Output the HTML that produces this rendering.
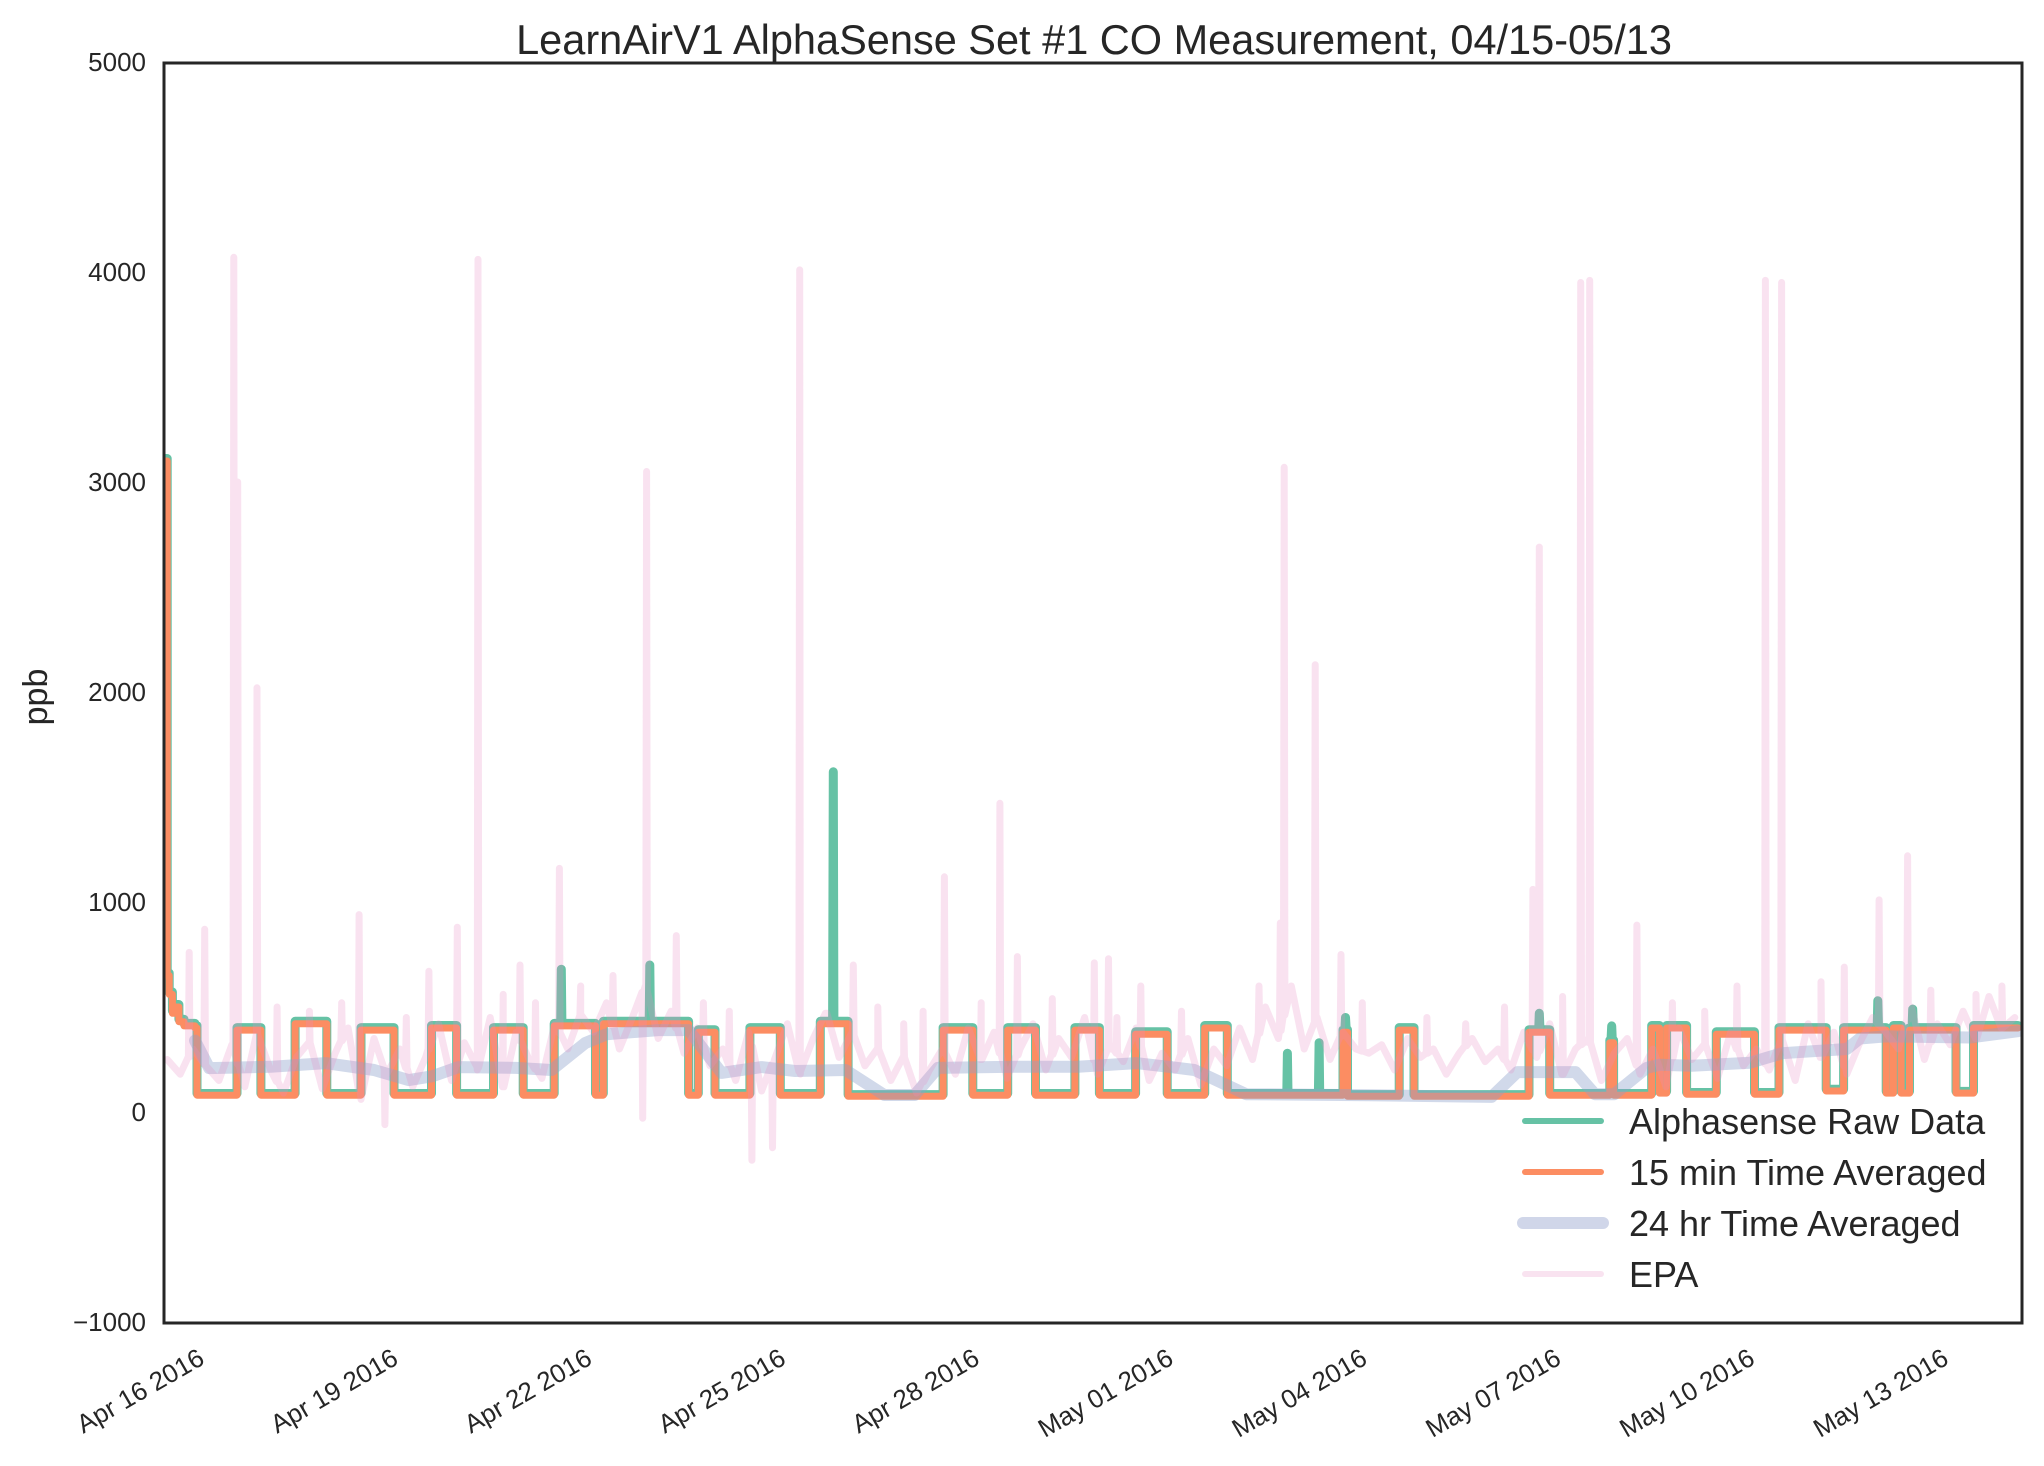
<!DOCTYPE html>
<html>
<head>
<meta charset="utf-8">
<style>
  html, body { margin: 0; padding: 0; background: #ffffff; }
  svg { display: block; font-family: "Liberation Sans", Arial, sans-serif; }
</style>
</head>
<body>
<svg id="chart" width="2044" height="1466" viewBox="0 0 2044 1466" xmlns="http://www.w3.org/2000/svg">
  <rect x="0" y="0" width="2044" height="1466" fill="#ffffff"/>
  <defs>
    <clipPath id="plotClip"><rect x="164" y="63" width="1858" height="1260"/></clipPath>
  </defs>
  <text x="1094" y="54" font-size="41.5" fill="#262626" text-anchor="middle">LearnAirV1 AlphaSense Set #1 CO Measurement, 04/15-05/13</text>
  <text x="47" y="697" font-size="34" fill="#262626" text-anchor="middle" transform="rotate(-90 47 697)">ppb</text>
  <g id="yticks"></g>
  <g id="xticks"></g>
  <g id="series" clip-path="url(#plotClip)"></g>
  <rect x="164" y="63" width="1858" height="1260" fill="none" stroke="#262626" stroke-width="3"/>
  <g>
    <line x1="1525" y1="1121" x2="1601" y2="1121" stroke="#66c2a5" stroke-width="6" stroke-linecap="round"/>
    <text x="1629" y="1134" font-size="36" fill="#262626">Alphasense Raw Data</text>
    <line x1="1525" y1="1172" x2="1601" y2="1172" stroke="#fc8d62" stroke-width="6" stroke-linecap="round"/>
    <text x="1629" y="1185" font-size="36" fill="#262626">15 min Time Averaged</text>
    <line x1="1523" y1="1223" x2="1603" y2="1223" stroke="#d0d6e9" stroke-width="12" stroke-linecap="round"/>
    <text x="1629" y="1236" font-size="36" fill="#262626">24 hr Time Averaged</text>
    <line x1="1525" y1="1274" x2="1601" y2="1274" stroke="#f9e3f0" stroke-width="6" stroke-linecap="round"/>
    <text x="1629" y="1287" font-size="36" fill="#262626">EPA</text>
  </g>
</svg>
<script>
// ---- data (days since Apr 16 2016 00:00) ----
const yTickValues = [-1000, 0, 1000, 2000, 3000, 4000, 5000];
const xTickDays = [0, 3, 6, 9, 12, 15, 18, 21, 24, 27];
const xTickLabels = ["Apr 16 2016","Apr 19 2016","Apr 22 2016","Apr 25 2016","Apr 28 2016","May 01 2016","May 04 2016","May 07 2016","May 10 2016","May 13 2016"];

// 15 min average: step starts and levels
const avgT = [-0.66,-0.6,-0.57,-0.52,-0.49,-0.42,-0.34,-0.17,-0.14,0.48,0.85,1.38,1.87,2.40,2.91,3.49,3.88,4.45,4.91,5.39,6.03,6.15,7.47,7.62,7.88,8.42,8.89,9.51,9.94,11.41,11.87,12.41,12.84,13.45,13.83,14.39,14.88,15.46,15.81,17.60,17.67,18.47,18.70,20.48,20.80,21.73,21.79,22.38,22.50,22.61,22.92,23.38,23.97,24.35,25.08,25.35,26.01,26.12,26.24,26.37,27.09,27.36];
const avgV = [3100,650,560,470,500,430,410,400,80,390,80,420,80,390,80,400,80,390,80,410,80,420,80,380,80,390,80,420,75,390,80,390,80,390,80,370,80,400,80,380,75,390,75,380,80,330,80,400,90,400,85,370,85,390,100,390,90,400,90,390,90,400];
const endDay = 28.05;

// raw data spikes
const rawSpikeT = [5.50,6.87,9.71,16.74,17.23,17.64,20.64,21.76,25.88,26.42];
const rawSpikeV = [680,700,1620,280,330,450,470,410,530,490];

// 24 hr average
const dayT = [-0.17,0.05,1.0,1.85,2.6,3.14,3.5,3.91,4.8,5.35,5.87,6.2,7.0,7.47,7.98,8.6,9.12,9.9,10.5,10.97,11.33,12.5,13.5,14.4,14.9,15.3,16.1,18.0,19.9,20.3,21.2,21.4,21.5,21.8,22.3,22.5,23.0,23.9,24.4,25.4,25.6,26.0,27.3,28.05];
const dayV = [340,209,215,233,200,152,170,214,210,200,328,370,390,390,186,214,195,200,81,81,210,215,215,233,215,200,85,80,72,190,190,120,85,85,210,225,220,235,280,300,350,360,355,385];

// EPA baseline (every 0.2 day from -0.6) and spikes
const epaStart = -0.6, epaStep = 0.2;
const epaBase = [250,180,300,220,
150,320,120,380,200,90,260,330,110,
280,400,60,350,180,300,120,260,420,150,
330,200,450,120,380,250,160,420,300,460,
380,520,300,450,600,350,480,280,400,220,
300,150,380,100,250,420,180,350,470,260,
380,220,300,150,260,90,200,300,180,400,
250,380,160,300,420,200,350,260,450,180,
320,240,400,150,280,200,350,130,300,220,
400,250,500,350,600,300,450,250,380,300,
280,320,200,350,260,300,180,280,350,240,
300,200,380,260,420,180,300,350,150,280,
350,180,300,120,400,250,320,160,380,220,
300,200,350,150,420,260,380,180,330,450,
380,300,500,250,420,320,480,350,550,400,
450];
const epaSpikeT = [-0.26,-0.02,0.43,0.49,0.79,2.37,2.77,3.45,3.89,4.21,4.86,5.47,6.76,6.82,7.28,8.45,8.77,9.19,10.02,11.43,12.29,12.56,13.75,13.97,14.47,16.63,16.69,17.17,17.57,20.54,20.64,21.28,21.42,22.15,24.14,24.39,25.36,25.90,26.34,1.1,1.6,2.1,3.1,4.6,5.1,5.8,6.3,7.7,8.1,9.6,10.4,10.8,11.1,12.0,13.1,14.1,15.1,16.3,17.9,18.9,19.5,20.1,21.0,22.7,23.2,23.7,25.0,26.7,27.4,27.8];
const epaSpikeV = [760,870,4070,3000,2020,940,-60,670,880,4060,700,1160,-30,3050,840,-230,-170,4010,700,1120,1470,740,710,730,600,900,3070,2130,750,1060,2690,3950,3960,890,3960,3950,690,1010,1220,500,480,520,450,560,520,600,650,520,480,450,500,420,480,520,540,450,480,600,520,450,420,500,550,520,480,600,620,580,560,600];

// ---- axes ----
const X0 = 206, PX_PER_DAY = 64.6;
const Y0 = 1112, PX_PER_UNIT = 0.21;
function xs(d) { return X0 + d * PX_PER_DAY; }
function ys(v) { return Y0 - v * PX_PER_UNIT; }

const NS = "http://www.w3.org/2000/svg";
function mk(tag, attrs, parent) {
  const el = document.createElementNS(NS, tag);
  for (const k in attrs) el.setAttribute(k, attrs[k]);
  parent.appendChild(el);
  return el;
}

const yg = document.getElementById('yticks');
yTickValues.forEach(v => {
  const t = mk('text', {x: 146, y: ys(v) + 9, 'font-size': 26, fill: '#262626', 'text-anchor': 'end'}, yg);
  
  
  t.textContent = v < 0 ? '\u2212' + Math.abs(v) : String(v);
});

const xg = document.getElementById('xticks');
xTickDays.forEach((d, i) => {
  const x = xs(d), y = 1363;
  const t = mk('text', {x: x, y: y, 'font-size': 26, fill: '#262626', 'text-anchor': 'end', transform: 'rotate(-30 ' + x + ' ' + y + ')'}, xg);
  
  
  t.textContent = xTickLabels[i];
});

// ---- series ----
const sg = document.getElementById('series');

function stepPoints(T, V, extraT, extraV) {
  const pts = [];
  for (let i = 0; i < T.length; i++) {
    const tEnd = i + 1 < T.length ? T[i + 1] : endDay;
    pts.push([T[i], V[i]]);
    if (extraT) {
      for (let k = 0; k < extraT.length; k++) {
        if (extraT[k] >= T[i] && extraT[k] < tEnd) {
          pts.push([extraT[k] - 0.01, V[i]]);
          pts.push([extraT[k], extraV[k]]);
          pts.push([extraT[k] + 0.01, V[i]]);
        }
      }
    }
    pts.push([tEnd, V[i]]);
  }
  pts.sort((a, b) => a[0] - b[0]);
  return pts;
}
function pathFrom(pts) {
  return pts.map((p, i) => (i ? 'L' : 'M') + xs(p[0]).toFixed(1) + ' ' + ys(p[1]).toFixed(1)).join(' ');
}

// EPA (pink) - drawn first as background band
function epaBaseAt(t) {
  const f = (t - epaStart) / epaStep;
  const i = Math.max(0, Math.min(epaBase.length - 2, Math.floor(f)));
  const r = f - i;
  return epaBase[i] * (1 - r) + epaBase[i + 1] * r;
}
const epaPts = epaBase.map((v, i) => [epaStart + i * epaStep, v]);
epaSpikeT.forEach((t, k) => {
  const b = epaBaseAt(t);
  epaPts.push([t - 0.012, b]);
  epaPts.push([t, epaSpikeV[k]]);
  epaPts.push([t + 0.012, b]);
});
epaPts.sort((a, b) => a[0] - b[0]);

// raw data (green)
const rawPts = stepPoints(avgT, avgV.map(v => v > 200 ? v + 12 : v + 8), rawSpikeT, rawSpikeV);
const rawPath = mk('path', {d: pathFrom(rawPts), fill: 'none', stroke: '#66c2a5', 'stroke-width': 9, 'stroke-linejoin': 'round', 'stroke-linecap': 'round'}, sg);



// 15 min average (orange)
const avgPts = stepPoints(avgT, avgV);
const avgPath = mk('path', {d: pathFrom(avgPts), fill: 'none', stroke: '#fc8d62', 'stroke-width': 7, 'stroke-linejoin': 'round', 'stroke-linecap': 'round'}, sg);



// 24 hr average (lavender)
const dayPts = dayT.map((t, i) => [t, dayV[i]]);
const dayPath = mk('path', {d: pathFrom(dayPts), fill: 'none', stroke: '#8da0cb', 'stroke-opacity': 0.4, 'stroke-width': 12, 'stroke-linejoin': 'round', 'stroke-linecap': 'round'}, sg);



const epaPath = mk('path', {d: pathFrom(epaPts), fill: 'none', stroke: '#e78ac3', 'stroke-opacity': 0.25, 'stroke-width': 7, 'stroke-linejoin': 'round', 'stroke-linecap': 'round'}, sg);


</script>
</body>
</html>
